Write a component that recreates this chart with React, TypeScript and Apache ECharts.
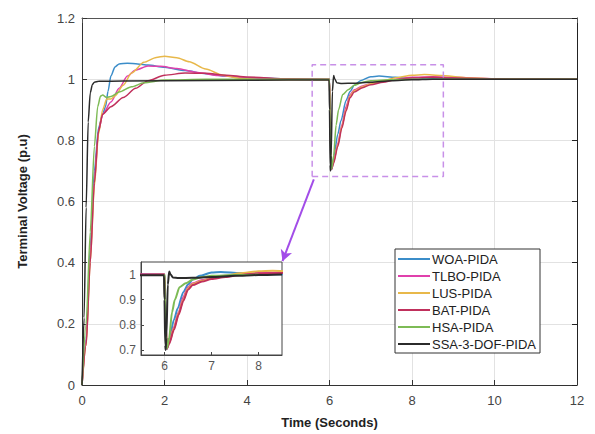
import React, { useEffect, useRef } from "react";
import * as echarts from "echarts";

type Pt = [number, number];

const seriesNames = ["WOA-PIDA", "TLBO-PIDA", "LUS-PIDA", "BAT-PIDA", "HSA-PIDA", "SSA-3-DOF-PIDA"];
const seriesColors = ["#3b8dc9", "#e040ac", "#e8b84a", "#c0305c", "#7dbb55", "#2b2b2b"];

const woa: Pt[] = [
  [0, 0], [0.1, 0.15], [0.2, 0.45], [0.3, 0.7], [0.4, 0.84], [0.5, 0.885], [0.57, 0.91], [0.63, 0.96],
  [0.7, 1.01], [0.8, 1.04], [0.9, 1.05], [1.1, 1.052], [1.35, 1.05], [1.6, 1.046], [2, 1.039], [2.5, 1.028],
  [3, 1.018], [3.5, 1.01], [4, 1.005], [5, 1.001], [6, 1.0], [6.02, 0.82], [6.05, 0.705], [6.1, 0.74],
  [6.2, 0.82], [6.28, 0.865], [6.4, 0.93], [6.5, 0.96], [6.6, 0.98], [6.75, 0.995], [7, 1.008], [7.2, 1.01],
  [7.6, 1.006], [8, 1.002], [9, 1.0], [12, 1.0],
];
const tlbo: Pt[] = [
  [0, 0], [0.1, 0.14], [0.2, 0.42], [0.3, 0.67], [0.4, 0.83], [0.5, 0.885], [0.7, 0.925], [0.9, 0.97],
  [1.1, 1.01], [1.3, 1.03], [1.6, 1.043], [1.9, 1.042], [2.3, 1.035], [2.8, 1.022], [3.3, 1.012], [4, 1.004],
  [5, 1.0], [6, 1.0], [6.02, 0.82], [6.05, 0.705], [6.1, 0.73], [6.2, 0.79], [6.3, 0.85], [6.4, 0.91],
  [6.5, 0.95], [6.6, 0.965], [6.8, 0.978], [7, 0.985], [7.3, 0.993], [7.6, 1.0], [8, 1.006], [8.5, 1.008],
  [9, 1.006], [10, 1.001], [12, 1.0],
];
const lus: Pt[] = [
  [0, 0], [0.1, 0.13], [0.2, 0.4], [0.3, 0.65], [0.4, 0.82], [0.5, 0.9], [0.6, 0.935], [0.7, 0.935],
  [0.8, 0.945], [1.0, 0.98], [1.2, 1.02], [1.5, 1.055], [1.8, 1.071], [2.0, 1.075], [2.3, 1.07], [2.6, 1.057],
  [3.0, 1.033], [3.4, 1.014], [3.8, 1.003], [4.3, 0.998], [5, 0.998], [6, 0.999], [6.02, 0.82], [6.05, 0.71],
  [6.1, 0.73], [6.2, 0.785], [6.3, 0.845], [6.4, 0.9], [6.5, 0.945], [6.6, 0.962], [6.8, 0.975], [7, 0.985],
  [7.3, 0.995], [7.6, 1.005], [8, 1.013], [8.3, 1.015], [8.7, 1.012], [9.3, 1.005], [10, 1.001], [12, 1.0],
];
const bat: Pt[] = [
  [0, 0], [0.1, 0.13], [0.2, 0.4], [0.3, 0.66], [0.4, 0.83], [0.5, 0.885], [0.7, 0.91], [1.0, 0.94],
  [1.3, 0.97], [1.6, 0.995], [2, 1.013], [2.5, 1.02], [3, 1.019], [3.5, 1.013], [4, 1.007], [5, 1.001],
  [6, 1.0], [6.02, 0.82], [6.05, 0.705], [6.1, 0.725], [6.2, 0.78], [6.3, 0.84], [6.4, 0.895], [6.5, 0.94],
  [6.6, 0.958], [6.8, 0.972], [7, 0.982], [7.3, 0.99], [7.6, 0.998], [8, 1.004], [8.5, 1.006], [9, 1.004],
  [10, 1.001], [12, 1.0],
];
const hsa: Pt[] = [
  [0, 0], [0.1, 0.2], [0.2, 0.5], [0.3, 0.78], [0.38, 0.91], [0.45, 0.945], [0.5, 0.948], [0.6, 0.94],
  [0.7, 0.943], [0.9, 0.958], [1.2, 0.975], [1.5, 0.988], [2, 0.997], [3, 1.0], [6, 1.0], [6.02, 0.8],
  [6.05, 0.705], [6.1, 0.75], [6.16, 0.85], [6.22, 0.9], [6.32, 0.95], [6.45, 0.965], [6.6, 0.98], [6.8, 0.99],
  [7, 0.995], [7.5, 0.998], [8, 1.0], [12, 1.0],
];
const ssa: Pt[] = [
  [0, 0], [0.05, 0.22], [0.1, 0.58], [0.15, 0.86], [0.2, 0.955], [0.25, 0.982], [0.3, 0.99], [0.4, 0.993],
  [1, 0.994], [3, 0.996], [5, 0.997], [5.99, 0.997], [6.0, 0.9], [6.015, 0.72], [6.025, 0.7], [6.04, 0.75],
  [6.07, 0.96], [6.1, 1.012], [6.13, 1.0], [6.18, 0.988], [6.3, 0.986], [6.6, 0.987], [7, 0.99], [7.5, 0.995],
  [8, 0.998], [8.5, 1.0], [12, 1.0],
];
const allData: Pt[][] = [woa, tlbo, lus, bat, hsa, ssa];

const zoomBox: Pt[] = [[5.58, 0.682], [8.76, 1.047]];
const arrowFrom: Pt = [5.62, 0.672];
const arrowTo: Pt = [4.86, 0.405];

const mainXTicks = { min: 0, max: 12, interval: 2 };
const mainYTicks = { min: 0, max: 1.2, interval: 0.2 };
const insetX = { min: 5.5, max: 8.5, labels: [6, 7, 8] };
const insetY = { min: 0.68, max: 1.05, labels: [0.7, 0.8, 0.9, 1] };

const FONT = "'Liberation Sans', Arial, Helvetica, sans-serif";

export default function App() {
  const ref = useRef<HTMLDivElement>(null);
  useEffect(() => {
    if (!ref.current) return;
    const chart = echarts.init(ref.current, null, { renderer: "svg" });
    const axisLineStyle = { color: "#333", width: 1 };
    const mainSeries = allData.map((d, i) => ({
      name: seriesNames[i],
      type: "line",
      xAxisIndex: 0,
      yAxisIndex: 0,
      data: d,
      showSymbol: false,
      symbol: "none",
      smooth: 0.25,
      smoothMonotone: "x",
      lineStyle: { width: 1.5, color: seriesColors[i] },
      itemStyle: { color: seriesColors[i] },
      z: 3 + i,
    }));
    const insetSeries = allData.map((d, i) => ({
      name: seriesNames[i],
      type: "line",
      xAxisIndex: 1,
      yAxisIndex: 1,
      data: d.filter((p) => p[0] >= 5 && p[0] <= 9),
      showSymbol: false,
      symbol: "none",
      smooth: 0.25,
      smoothMonotone: "x",
      lineStyle: { width: 2, color: seriesColors[i] },
      itemStyle: { color: seriesColors[i] },
      z: 10 + i,
    }));
    const [b0, b1] = zoomBox;
    const boxSeries = {
      name: "zoomBox",
      type: "line",
      xAxisIndex: 0,
      yAxisIndex: 0,
      data: [[b0[0], b0[1]], [b1[0], b0[1]], [b1[0], b1[1]], [b0[0], b1[1]], [b0[0], b0[1]]],
      showSymbol: false,
      symbol: "none",
      silent: true,
      lineStyle: { color: "#c890e8", width: 1.5, type: [6, 4] },
      z: 20,
      markLine: {
        silent: true,
        symbol: ["none", "arrow"],
        symbolSize: [9, 11],
        label: { show: false },
        lineStyle: { color: "#a24de8", width: 2, type: "solid" },
        data: [[{ coord: arrowFrom }, { coord: arrowTo }]],
      },
    };

    chart.setOption({
      animation: false,
      backgroundColor: "#fff",
      textStyle: { fontFamily: FONT },
      grid: [
        { left: 82, top: 18, right: 18, bottom: 49, show: false },
        {
          left: 141, top: 262, width: 141, height: 93, show: true,
          backgroundColor: "#fff", borderColor: "#444", borderWidth: 1, z: 1,
        },
      ],
      legend: {
        data: seriesNames.map((n) => ({ name: n, icon: "rect" })),
        orient: "vertical",
        left: 395,
        top: 249,
        itemWidth: 32,
        itemHeight: 2,
        itemGap: 3,
        padding: [3, 4, 2, 3],
        borderColor: "#333",
        borderWidth: 1,
        backgroundColor: "#fff",
        textStyle: { fontSize: 13, color: "#222", fontFamily: FONT, lineHeight: 14, padding: [0, 0, 0, -3] },
        z: 30,
      },
      xAxis: [
        {
          type: "value", gridIndex: 0, ...mainXTicks,
          name: "Time (Seconds)", nameLocation: "middle", nameGap: 31,
          nameTextStyle: { fontSize: 13, fontWeight: "bold", color: "#222", fontFamily: FONT },
          axisLine: { show: true, lineStyle: axisLineStyle, onZero: false },
          axisTick: { show: true, inside: true, length: 5, lineStyle: axisLineStyle },
          axisLabel: { fontSize: 13, color: "#444", margin: 9, fontFamily: FONT },
          splitLine: { show: true, lineStyle: { color: "#e2e2e2", width: 1 } },
        },
        {
          type: "value", gridIndex: 1, min: insetX.min, max: insetX.max,
          axisLine: { show: true, lineStyle: { color: "#444" }, onZero: false },
          axisTick: { show: true, inside: true, length: 3, customValues: insetX.labels, lineStyle: { color: "#444" } },
          axisLabel: { fontSize: 12, color: "#555", margin: 5, customValues: insetX.labels, fontFamily: FONT },
          splitLine: { show: false },
          z: 1,
        },
        {
          type: "value", gridIndex: 0, position: "top", ...mainXTicks,
          axisLine: { show: true, lineStyle: { color: "#555" }, onZero: false },
          axisTick: { show: true, inside: true, length: 5, lineStyle: { color: "#555" } },
          axisLabel: { show: false },
          splitLine: { show: false },
        },
      ],
      yAxis: [
        {
          type: "value", gridIndex: 0, ...mainYTicks,
          name: "Terminal Voltage (p.u)", nameLocation: "middle", nameGap: 53,
          nameTextStyle: { fontSize: 13, fontWeight: "bold", color: "#222", fontFamily: FONT },
          axisLine: { show: true, lineStyle: axisLineStyle, onZero: false },
          axisTick: { show: true, inside: true, length: 5, lineStyle: axisLineStyle },
          axisLabel: { fontSize: 13, color: "#444", margin: 7, fontFamily: FONT },
          splitLine: { show: true, lineStyle: { color: "#e2e2e2", width: 1 } },
        },
        {
          type: "value", gridIndex: 1, min: insetY.min, max: insetY.max,
          axisLine: { show: true, lineStyle: { color: "#444" }, onZero: false },
          axisTick: { show: true, inside: true, length: 3, customValues: insetY.labels, lineStyle: { color: "#444" } },
          axisLabel: { fontSize: 12, color: "#555", margin: 5, customValues: insetY.labels, fontFamily: FONT },
          splitLine: { show: false },
          z: 1,
        },
        {
          type: "value", gridIndex: 0, position: "right", ...mainYTicks,
          axisLine: { show: true, lineStyle: { color: "#222" }, onZero: false },
          axisTick: { show: true, inside: true, length: 5, lineStyle: { color: "#222" } },
          axisLabel: { show: false },
          splitLine: { show: false },
        },
      ],
      series: [...mainSeries, boxSeries, ...insetSeries],
    });
    return () => chart.dispose();
  }, []);
  return (
    <div
      ref={ref}
      style={{ position: "fixed", left: 0, top: 0, width: 595, height: 434, background: "#fff" }}
    />
  );
}
